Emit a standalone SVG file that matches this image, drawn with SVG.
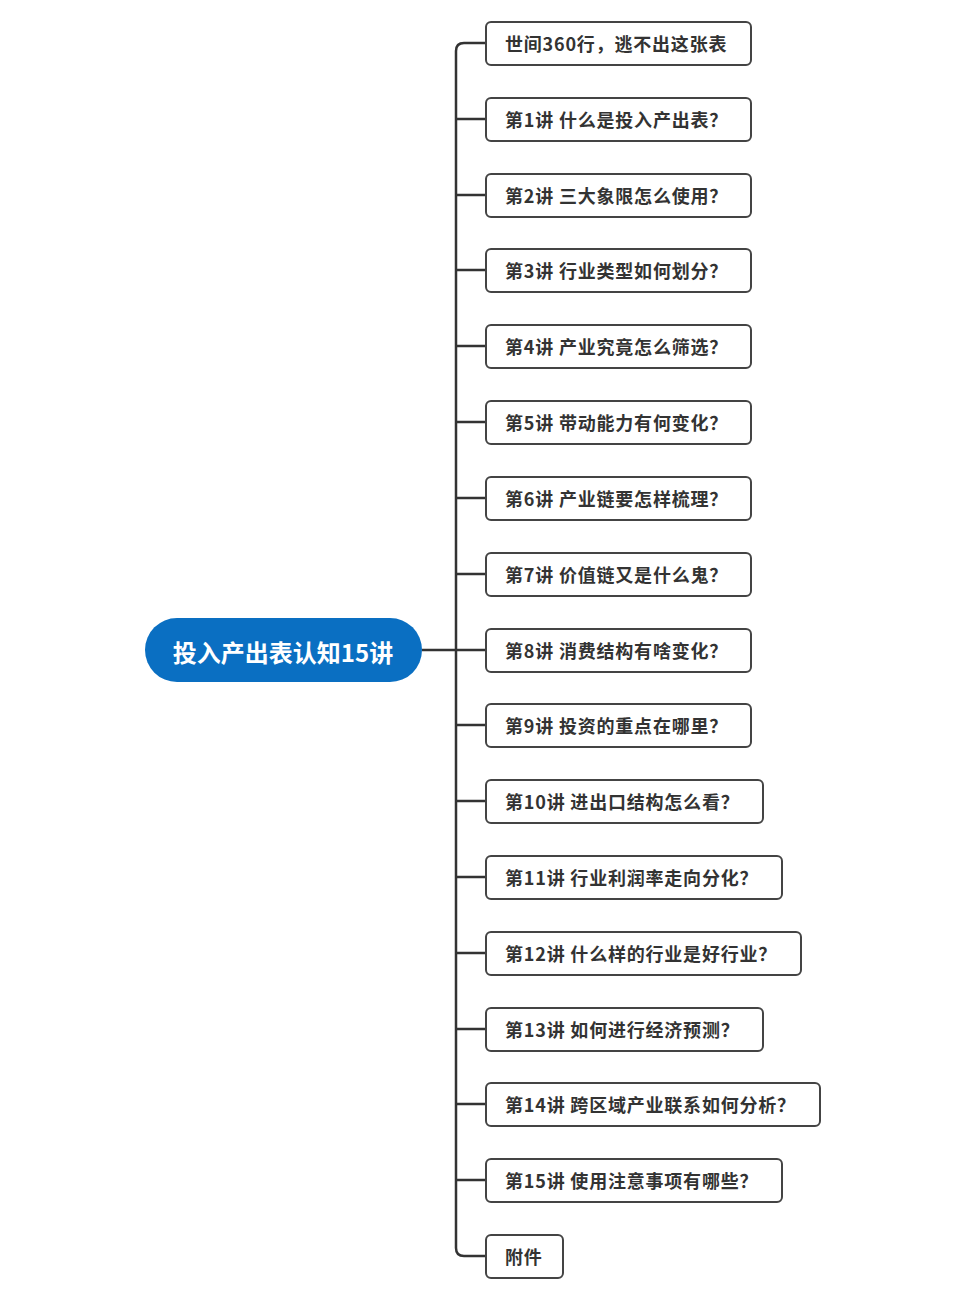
<svg xmlns="http://www.w3.org/2000/svg" width="975" height="1300" viewBox="0 0 975 1300">
<style>
.n rect{fill:#fff;stroke:#444;stroke-width:2}
.n text{font-family:"Noto Sans CJK SC","Liberation Sans",sans-serif;font-size:18px;font-weight:bold;fill:#333;dominant-baseline:central;letter-spacing:0.8px}
.c path{fill:none;stroke:#333;stroke-width:2.5}
</style>
<rect width="975" height="1300" fill="#fff"/>
<g class="c">
<path d="M422,650 H456"/>
<path d="M486,43 H464 Q456,43 456,51 V1248 Q456,1256 464,1256 H486"/>
<path d="M456,119 H486 M456,195 H486 M456,270 H486 M456,346 H486 M456,422 H486 M456,498 H486 M456,574 H486 M456,650 H486 M456,725 H486 M456,801 H486 M456,877 H486 M456,953 H486 M456,1029 H486 M456,1104 H486 M456,1180 H486"/>
</g>
<g id="root"><rect x="145" y="618" width="277" height="64" rx="32" fill="#0a6fc2"/><text x="283" y="651" text-anchor="middle" font-family="Noto Sans CJK SC,Liberation Sans,sans-serif" font-size="24" font-weight="bold" fill="#fff" dominant-baseline="central">投入产出表认知15讲</text></g>
<g id="n0" class="n"><rect x="486" y="22" width="265" height="43" rx="5"/><text x="505" y="43">世间360行，逃不出这张表</text></g>
<g id="n1" class="n"><rect x="486" y="98" width="265" height="43" rx="5"/><text x="505" y="119">第1讲 什么是投入产出表？</text></g>
<g id="n2" class="n"><rect x="486" y="174" width="265" height="43" rx="5"/><text x="505" y="195">第2讲 三大象限怎么使用？</text></g>
<g id="n3" class="n"><rect x="486" y="249" width="265" height="43" rx="5"/><text x="505" y="270">第3讲 行业类型如何划分？</text></g>
<g id="n4" class="n"><rect x="486" y="325" width="265" height="43" rx="5"/><text x="505" y="346">第4讲 产业究竟怎么筛选？</text></g>
<g id="n5" class="n"><rect x="486" y="401" width="265" height="43" rx="5"/><text x="505" y="422">第5讲 带动能力有何变化？</text></g>
<g id="n6" class="n"><rect x="486" y="477" width="265" height="43" rx="5"/><text x="505" y="498">第6讲 产业链要怎样梳理？</text></g>
<g id="n7" class="n"><rect x="486" y="553" width="265" height="43" rx="5"/><text x="505" y="574">第7讲 价值链又是什么鬼？</text></g>
<g id="n8" class="n"><rect x="486" y="629" width="265" height="43" rx="5"/><text x="505" y="650">第8讲 消费结构有啥变化？</text></g>
<g id="n9" class="n"><rect x="486" y="704" width="265" height="43" rx="5"/><text x="505" y="725">第9讲 投资的重点在哪里？</text></g>
<g id="n10" class="n"><rect x="486" y="780" width="277" height="43" rx="5"/><text x="505" y="801">第10讲 进出口结构怎么看？</text></g>
<g id="n11" class="n"><rect x="486" y="856" width="296" height="43" rx="5"/><text x="505" y="877">第11讲 行业利润率走向分化？</text></g>
<g id="n12" class="n"><rect x="486" y="932" width="315" height="43" rx="5"/><text x="505" y="953">第12讲 什么样的行业是好行业？</text></g>
<g id="n13" class="n"><rect x="486" y="1008" width="277" height="43" rx="5"/><text x="505" y="1029">第13讲 如何进行经济预测？</text></g>
<g id="n14" class="n"><rect x="486" y="1083" width="334" height="43" rx="5"/><text x="505" y="1104">第14讲 跨区域产业联系如何分析？</text></g>
<g id="n15" class="n"><rect x="486" y="1159" width="296" height="43" rx="5"/><text x="505" y="1180">第15讲 使用注意事项有哪些？</text></g>
<g id="n16" class="n"><rect x="486" y="1235" width="77" height="43" rx="5"/><text x="505" y="1256">附件</text></g>
</svg>
